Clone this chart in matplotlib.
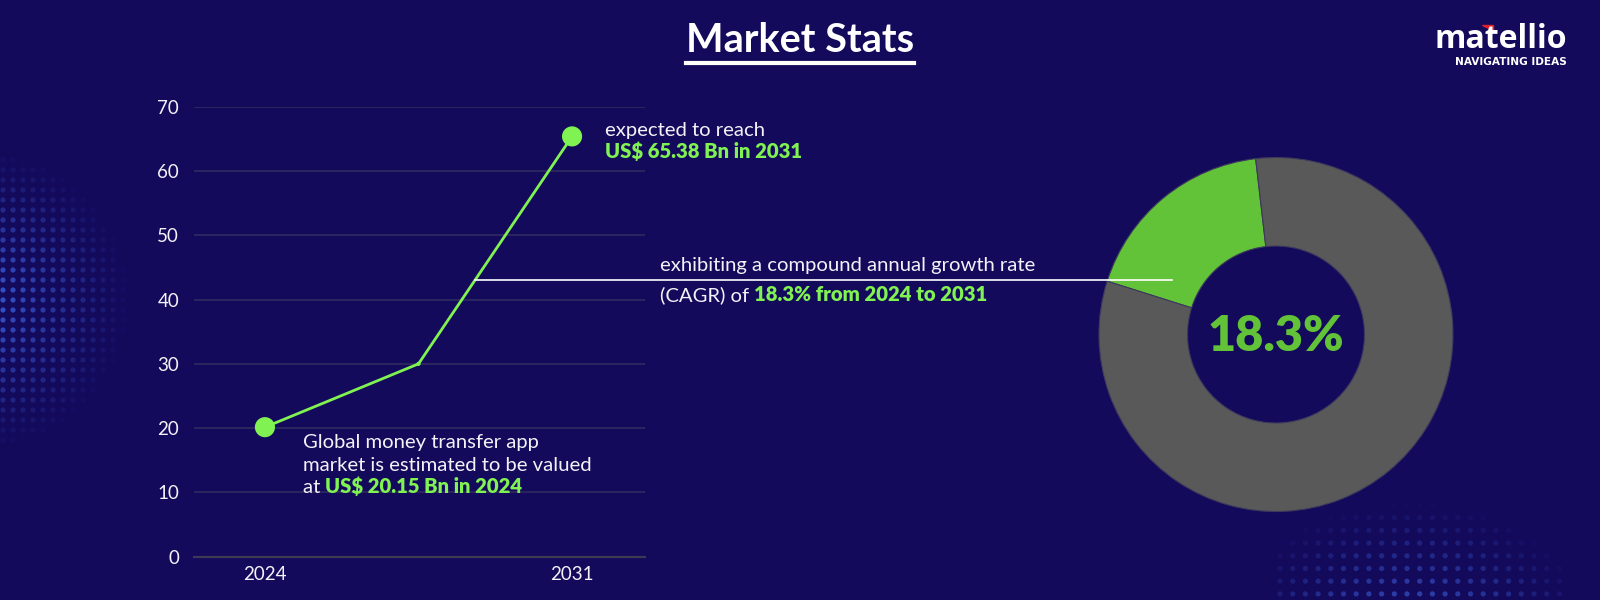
import matplotlib
matplotlib.use("Agg")
import numpy as np
import matplotlib.pyplot as plt
from matplotlib.lines import Line2D
from matplotlib.patches import Polygon

plt.rcParams['font.family'] = ['Lato', 'DejaVu Sans']

# ---------------- data ----------------
x_pos = [0, 1, 2]
market_values = [20.15, 30, 65.38]          # US$ Bn
x_tick_labels = ['2024', '', '2031']
y_ticks = [0, 10, 20, 30, 40, 50, 60, 70]
marker_sizes = [210, 9, 210]
cagr_share = [18.3, 81.7]                   # donut: CAGR % vs rest
cagr_label = '18.3%'

# ---------------- style ----------------
W, H = 1600, 600
BG = '#140a5c'
GREEN = '#80f252'
GREEN_D = '#62c338'
GRAY = '#595959'
GRID = '#2e2960'
WHITE = '#f2f2f7'
FS = 14.6


def fx(x):
    return x / W


def fy(y):
    return 1 - y / H


fig = plt.figure(figsize=(16, 6), dpi=100, facecolor=BG)

# ---------------- background dot texture (decorative) ----------------
bg = fig.add_axes([0, 0, 1, 1], zorder=-10)
bg.set_xlim(0, W)
bg.set_ylim(H, 0)
bg.axis('off')


def dot_halo(cx, cy, rx, ry, step, xmin, xmax, ymin, ymax, peak):
    gx, gy = np.meshgrid(np.arange(xmin, xmax, step), np.arange(ymin, ymax, step))
    d = np.sqrt(((gx - cx) / rx) ** 2 + ((gy - cy) / ry) ** 2)
    a = np.clip(1 - d, 0, 1) * peak
    m = a > 0.02
    cols = np.zeros((m.sum(), 4))
    cols[:, 0:3] = [0.25, 0.42, 0.92]
    cols[:, 3] = a[m]
    bg.scatter(gx[m], gy[m], s=14, c=cols, linewidths=0)


dot_halo(-20, 300, 150, 150, 10, 3, 140, 160, 450, 0.85)
dot_halo(1410, 640, 190, 140, 12.7, 1280, 1560, 505, 600, 0.8)

# ---------------- title & logo ----------------
fig.text(fx(800), fy(41), 'Market Stats', fontsize=28.5, fontweight='bold',
         color='white', ha='center', va='center')
fig.add_artist(Line2D([fx(686), fx(914)], [fy(63), fy(63)], color='white', lw=3))

fig.text(fx(1567), fy(39), 'matellio', fontsize=23, fontweight='bold',
         color='white', ha='right', va='center', family=['Open Sans', 'DejaVu Sans'])
fig.text(fx(1567), fy(62), 'NAVIGATING IDEAS', fontsize=7.6, fontweight='bold',
         color='white', ha='right', va='center', family=['DejaVu Sans'])
fig.add_artist(Polygon([[fx(1482), fy(25)], [fx(1493), fy(25)], [fx(1493), fy(30)]],
                       closed=True, color='#e0202a', transform=fig.transFigure))

# ---------------- line chart ----------------
ax = fig.add_axes([fx(194.3), fy(556.7), (645 - 194.3) / W, (556.7 - 106.7) / H])
ax.set_facecolor('none')
ax.plot(x_pos, market_values, color=GREEN, lw=2, zorder=3, clip_on=False)
ax.scatter(x_pos, market_values, s=marker_sizes, color=GREEN, zorder=4,
           clip_on=False, linewidths=0)
ax.set_ylim(0, 70)
ax.set_xlim(-0.46, 2.475)
ax.set_yticks(y_ticks)
ax.set_xticks(x_pos)
ax.set_xticklabels(x_tick_labels)
ax.grid(axis='y', color=GRID, lw=1.3)
ax.set_axisbelow(True)
for s in ['top', 'right', 'left']:
    ax.spines[s].set_visible(False)
ax.spines['bottom'].set_color('#3c3b52')
ax.spines['bottom'].set_linewidth(1.5)
ax.tick_params(axis='both', length=0, colors=WHITE, labelsize=13.5)
ax.tick_params(axis='y', pad=11)
ax.tick_params(axis='x', pad=7)

# annotations for points
ax.annotate('expected to reach', xy=(x_pos[2], market_values[2]),
            xytext=(33, 6), textcoords='offset pixels', fontsize=FS,
            color=WHITE, ha='left', va='center')
ax.annotate('US$ 65.38 Bn in 2031', xy=(x_pos[2], market_values[2]),
            xytext=(33, -15), textcoords='offset pixels', fontsize=FS,
            fontweight='heavy', color=GREEN, ha='left', va='center')

ax.annotate('Global money transfer app', xy=(x_pos[0], market_values[0]),
            xytext=(38, -15), textcoords='offset pixels', fontsize=FS,
            color=WHITE, ha='left', va='center')
ax.annotate('market is estimated to be valued', xy=(x_pos[0], market_values[0]),
            xytext=(38, -38), textcoords='offset pixels', fontsize=FS,
            color=WHITE, ha='left', va='center')
ta = ax.annotate('at ', xy=(x_pos[0], market_values[0]),
                 xytext=(38, -60), textcoords='offset pixels', fontsize=FS,
                 color=WHITE, ha='left', va='center')
ax.annotate('US$ 20.15 Bn in 2024', xy=(1, 0), xycoords=ta, fontsize=FS,
            fontweight='heavy', color=GREEN, ha='left', va='bottom')

# CAGR text and connector
fig.add_artist(Line2D([fx(475), fx(1172)], [fy(280), fy(280)], color='white', lw=1.2))
fig.text(fx(660), fy(266), 'exhibiting a compound annual growth rate', fontsize=FS,
         color=WHITE, ha='left', va='center')
tc = fig.text(fx(660), fy(295), '(CAGR) of ', fontsize=FS, color=WHITE,
              ha='left', va='center')
ax.annotate('18.3% from 2024 to 2031', xy=(1, 0), xycoords=tc, fontsize=FS,
            fontweight='heavy', color=GREEN, ha='left', va='bottom')

# ---------------- donut ----------------
cx, cy, r = 1276, 334.5, 177
ax2 = fig.add_axes([fx(cx - r), fy(cy + r), 2 * r / W, 2 * r / H])
ax2.pie(cagr_share, colors=[GREEN_D, GRAY], startangle=96.6, counterclock=True,
        radius=1, wedgeprops=dict(width=0.5, edgecolor='#3d3a5c', linewidth=0.8))
ax2.set_xlim(-1.0, 1.0)
ax2.set_ylim(-1.0, 1.0)
ax2.set_aspect('equal')
ax2.axis('off')
ax2.text(0, -0.01, cagr_label, fontsize=35, fontweight='heavy', color=GREEN_D,
         ha='center', va='center')

fig.savefig('out.png', dpi=100, facecolor=BG)
